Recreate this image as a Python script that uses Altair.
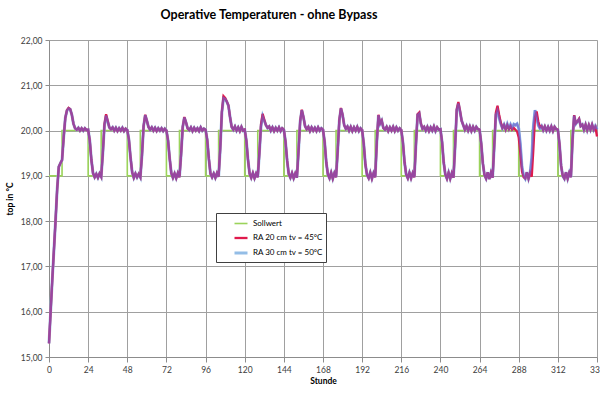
import altair as alt
import pandas as pd

# ---- data ----
series_names = ["Sollwert", "RA 20 cm tv = 45°C", "RA 30 cm tv = 50°C"]

# Sollwert switching points (hour, value) -> drawn as a step line
soll_hours = [0, 8, 24, 32, 48, 56, 72, 80, 96, 104, 120, 128, 144, 152, 168, 176,
              192, 200, 216, 224, 240, 248, 264, 272, 288, 296, 312, 320, 336]
soll_values = [19, 20, 19, 20, 19, 20, 19, 20, 19, 20, 19, 20, 19, 20, 19, 20,
               19, 20, 19, 20, 19, 20, 19, 20, 19, 20, 19, 20, 20]

# x-axis tick labels (hours) and y-axis tick values
x_ticks = [0, 24, 48, 72, 96, 120, 144, 168, 192, 216, 240, 264, 288, 312, 336]
y_ticks = [15, 16, 17, 18, 19, 20, 21, 22]

# hourly operative temperature, one list of 24 values per day
ra30_tv50 = [
    [15.30, 16.00, 16.70, 17.35, 18.00, 18.70, 19.20, 19.28, 19.35, 19.85, 20.28, 20.44, 20.49, 20.47, 20.35, 20.15, 20.05, 20.02, 20.06, 20.00, 20.05, 20.00, 20.05, 20.01],
    [20.02, 19.78, 19.35, 19.06, 18.97, 19.04, 18.96, 19.05, 18.98, 19.50, 20.12, 20.33, 20.20, 20.07, 20.03, 20.07, 20.00, 20.06, 19.99, 20.05, 20.00, 20.06, 19.99, 20.04],
    [20.01, 19.80, 19.40, 19.08, 18.96, 19.05, 18.97, 19.04, 18.97, 19.45, 20.10, 20.34, 20.22, 20.08, 20.02, 20.07, 20.00, 20.06, 19.99, 20.05, 20.00, 20.05, 19.99, 20.04],
    [20.00, 19.78, 19.38, 19.06, 18.96, 19.05, 18.95, 19.06, 18.97, 19.48, 20.08, 20.29, 20.18, 20.05, 20.01, 20.07, 19.99, 20.06, 20.00, 20.05, 19.99, 20.07, 20.00, 20.04],
    [20.02, 19.80, 19.38, 19.05, 18.97, 19.05, 18.96, 19.06, 18.98, 19.60, 20.40, 20.72, 20.70, 20.64, 20.55, 20.30, 20.08, 20.02, 20.09, 20.00, 20.07, 19.99, 20.08, 20.00],
    [20.02, 19.78, 19.36, 19.05, 18.96, 19.06, 18.95, 19.05, 18.97, 19.50, 20.10, 20.32, 20.22, 20.12, 20.06, 20.09, 20.00, 20.07, 19.99, 20.06, 20.00, 20.07, 19.99, 20.05],
    [20.02, 19.76, 19.34, 19.04, 18.96, 19.06, 18.95, 19.05, 18.96, 19.55, 20.20, 20.45, 20.30, 20.10, 20.03, 20.08, 19.99, 20.07, 20.00, 20.06, 19.99, 20.07, 20.00, 20.05],
    [20.02, 19.75, 19.30, 19.03, 18.95, 19.07, 18.94, 19.06, 18.97, 19.55, 20.22, 20.49, 20.35, 20.12, 20.04, 20.09, 20.00, 20.08, 19.99, 20.07, 20.00, 20.08, 19.99, 20.05],
    [20.01, 19.70, 19.25, 19.02, 18.95, 19.07, 18.94, 19.06, 18.97, 19.75, 20.34, 20.15, 20.22, 20.06, 20.02, 20.08, 19.99, 20.07, 20.00, 20.08, 19.99, 20.07, 20.00, 20.05],
    [20.01, 19.74, 19.30, 19.03, 18.95, 19.07, 18.95, 19.06, 18.97, 19.70, 20.35, 20.38, 20.15, 20.04, 20.08, 20.00, 20.08, 19.99, 20.07, 20.00, 20.09, 19.99, 20.07, 20.02],
    [20.03, 19.75, 19.30, 19.03, 18.94, 19.07, 18.94, 19.06, 18.96, 19.65, 20.45, 20.60, 20.42, 20.22, 20.12, 20.02, 20.10, 20.00, 20.09, 19.99, 20.08, 20.00, 20.08, 20.03],
    [20.02, 19.72, 19.28, 19.02, 18.94, 19.08, 18.93, 19.07, 18.96, 19.65, 20.35, 20.45, 20.28, 20.15, 20.05, 20.13, 20.03, 20.14, 20.04, 20.13, 20.05, 20.14, 20.12, 20.15],
    [20.05, 19.70, 19.20, 19.00, 18.94, 19.08, 18.94, 19.07, 19.40, 20.10, 20.45, 20.30, 20.12, 20.05, 20.10, 20.01, 20.09, 20.00, 20.08, 20.00, 20.09, 19.99, 20.08, 20.03],
    [20.02, 19.70, 19.22, 19.00, 18.94, 19.08, 18.94, 19.07, 18.97, 19.80, 20.33, 20.15, 20.20, 20.25, 20.10, 20.13, 20.02, 20.13, 20.01, 20.12, 20.02, 20.13, 20.02, 20.10],
]
ra30_tv50_end = 20.03

ra20_tv45 = [
    [15.30, 16.00, 16.70, 17.35, 18.00, 18.70, 19.20, 19.28, 19.35, 19.85, 20.28, 20.45, 20.50, 20.47, 20.35, 20.15, 20.05, 20.02, 20.06, 20.00, 20.05, 20.00, 20.05, 20.01],
    [20.02, 19.78, 19.35, 19.06, 18.97, 19.04, 18.96, 19.05, 18.98, 19.50, 20.14, 20.36, 20.21, 20.07, 20.03, 20.07, 20.00, 20.06, 19.99, 20.05, 20.00, 20.06, 19.99, 20.04],
    [20.01, 19.80, 19.40, 19.08, 18.96, 19.05, 18.97, 19.04, 18.97, 19.45, 20.10, 20.35, 20.22, 20.08, 20.02, 20.07, 20.00, 20.06, 19.99, 20.05, 20.00, 20.05, 19.99, 20.04],
    [20.00, 19.78, 19.38, 19.06, 18.96, 19.05, 18.95, 19.06, 18.97, 19.48, 20.08, 20.30, 20.18, 20.05, 20.01, 20.07, 19.99, 20.06, 20.00, 20.05, 19.99, 20.07, 20.00, 20.04],
    [20.02, 19.80, 19.38, 19.05, 18.97, 19.05, 18.96, 19.06, 18.98, 19.62, 20.42, 20.76, 20.72, 20.64, 20.56, 20.30, 20.08, 20.02, 20.09, 20.00, 20.07, 19.99, 20.08, 20.00],
    [20.02, 19.78, 19.36, 19.05, 18.96, 19.06, 18.95, 19.05, 18.97, 19.52, 20.14, 20.37, 20.24, 20.12, 20.06, 20.09, 20.00, 20.07, 19.99, 20.06, 20.00, 20.07, 19.99, 20.05],
    [20.02, 19.76, 19.34, 19.04, 18.96, 19.06, 18.95, 19.05, 18.96, 19.55, 20.21, 20.46, 20.30, 20.10, 20.03, 20.08, 19.99, 20.07, 20.00, 20.06, 19.99, 20.07, 20.00, 20.05],
    [20.02, 19.75, 19.30, 19.03, 18.95, 19.07, 18.94, 19.06, 18.97, 19.55, 20.23, 20.50, 20.35, 20.12, 20.04, 20.09, 20.00, 20.08, 19.99, 20.07, 20.00, 20.08, 19.99, 20.05],
    [20.01, 19.70, 19.25, 19.02, 18.95, 19.07, 18.94, 19.06, 18.97, 19.75, 20.35, 20.16, 20.22, 20.06, 20.02, 20.08, 19.99, 20.07, 20.00, 20.08, 19.99, 20.07, 20.00, 20.05],
    [20.01, 19.74, 19.30, 19.03, 18.95, 19.07, 18.95, 19.06, 18.97, 19.70, 20.36, 20.40, 20.16, 20.04, 20.08, 20.00, 20.08, 19.99, 20.07, 20.00, 20.09, 19.99, 20.07, 20.02],
    [20.03, 19.75, 19.30, 19.03, 18.94, 19.07, 18.94, 19.06, 18.96, 19.66, 20.47, 20.63, 20.44, 20.22, 20.12, 20.02, 20.10, 20.00, 20.09, 19.99, 20.08, 20.00, 20.08, 20.03],
    [20.02, 19.72, 19.28, 19.02, 18.94, 19.08, 18.93, 19.07, 18.96, 19.68, 20.40, 20.55, 20.35, 20.18, 20.06, 20.12, 20.02, 20.12, 20.03, 20.10, 20.02, 20.06, 20.02, 19.98],
    [19.85, 19.50, 19.10, 18.97, 18.94, 19.08, 18.94, 19.07, 18.98, 19.60, 20.30, 20.42, 20.20, 20.08, 20.10, 20.01, 20.09, 20.00, 20.08, 20.00, 20.09, 19.99, 20.08, 20.03],
    [20.02, 19.70, 19.22, 19.00, 18.94, 19.08, 18.94, 19.07, 18.97, 19.80, 20.34, 20.16, 20.20, 20.26, 20.10, 20.13, 20.02, 20.13, 20.01, 20.12, 20.02, 20.13, 20.02, 20.08],
]
ra20_tv45_end = 19.87

colors = ["#9bd35a", "#e01a4c", "#93bde6"]
overlay_color = "#6f5fcf"


def to_frame(days, end_value, name):
    rows = []
    for d, vals in enumerate(days):
        for i, v in enumerate(vals):
            rows.append({"hour": d * 24 + i, "value": v, "series": name})
    rows.append({"hour": len(days) * 24, "value": end_value, "series": name})
    return pd.DataFrame(rows)


soll_df = pd.DataFrame({"hour": soll_hours, "value": soll_values, "series": series_names[0]})
red_df = to_frame(ra20_tv45, ra20_tv45_end, series_names[1])
blue_df = to_frame(ra30_tv50, ra30_tv50_end, series_names[2])

FONT = "Lato"

x_enc = alt.X(
    "hour:Q",
    scale=alt.Scale(domain=[0, 336], nice=False),
    axis=alt.Axis(
        values=x_ticks,
        title="Stunde",
        titleFontWeight="bold",
        titleFontSize=8.5,
        titleFont=FONT,
        titleColor="#000000",
        titlePadding=3,
        labelFont=FONT,
        labelFontSize=8.5,
        labelColor="#404040",
        labelPadding=3,
        labelFlush=False,
        labelOverlap=False,
        tickSize=5,
        tickColor="#8c8c8c",
        domainColor="#8c8c8c",
        gridColor="#a0a0a0",
        grid=True,
    ),
)
y_enc = alt.Y(
    "value:Q",
    scale=alt.Scale(domain=[15, 22], nice=False, zero=False),
    axis=alt.Axis(
        values=y_ticks,
        labelExpr="replace(format(datum.value, '.2f'), '.', ',')",
        title="top in °C",
        titleFontWeight="bold",
        titleFontSize=8.5,
        titleFont=FONT,
        titleColor="#000000",
        titlePadding=6,
        labelFont=FONT,
        labelFontSize=8.5,
        labelColor="#404040",
        labelPadding=3,
        labelOverlap=False,
        tickSize=4,
        tickColor="#8c8c8c",
        domainColor="#8c8c8c",
        gridColor="#a0a0a0",
        grid=True,
    ),
)

color_scale = alt.Scale(domain=series_names, range=colors)
width_scale = alt.Scale(domain=series_names, range=[1.6, 3.0, 1.6])
legend = alt.Legend(
    title=None,
    orient="none",
    legendX=167,
    legendY=173,
    symbolType="stroke",
    symbolSize=169,
    symbolOffset=14,
    labelFont=FONT,
    labelFontSize=8,
    labelColor="#000000",
    labelOffset=4,
    rowPadding=2,
    padding=3,
    strokeColor="#404040",
    fillColor="#ffffff",
)

soll = alt.Chart(soll_df).mark_line(interpolate="step-after").encode(
    x=x_enc,
    y=y_enc,
    color=alt.Color("series:N", scale=color_scale, legend=legend),
    strokeWidth=alt.StrokeWidth("series:N", scale=width_scale, legend=legend),
)
blue = alt.Chart(blue_df).mark_line().encode(
    x=x_enc,
    y=y_enc,
    color=alt.Color("series:N", scale=color_scale, legend=legend),
    strokeWidth=alt.StrokeWidth("series:N", scale=width_scale, legend=legend),
)
red = alt.Chart(red_df).mark_line().encode(
    x=x_enc,
    y=y_enc,
    color=alt.Color("series:N", scale=color_scale, legend=legend),
    strokeWidth=alt.StrokeWidth("series:N", scale=width_scale, legend=legend),
)
overlay = alt.Chart(blue_df).mark_line(color=overlay_color, strokeWidth=2.2, opacity=0.65).encode(
    x=x_enc,
    y=y_enc,
)

chart = (
    alt.layer(soll, blue, red, overlay)
    .properties(
        width=548,
        height=317,
        autosize=alt.AutoSizeParams(type="none"),
        padding={"left": 49, "top": 40, "right": 3, "bottom": 43},
        title=alt.TitleParams(
            "Operative Temperaturen - ohne Bypass",
            font=FONT,
            fontSize=12.5,
            fontWeight="bold",
            color="#000000",
            anchor="middle",
            dx=-54,
            offset=15,
        ),
    )
    .configure_axis(labelOverlap=False)
    .configure_view(strokeWidth=0)
    .configure(background="#ffffff")
)

chart.save("out.html", embed_options={"renderer": "svg", "actions": False})
